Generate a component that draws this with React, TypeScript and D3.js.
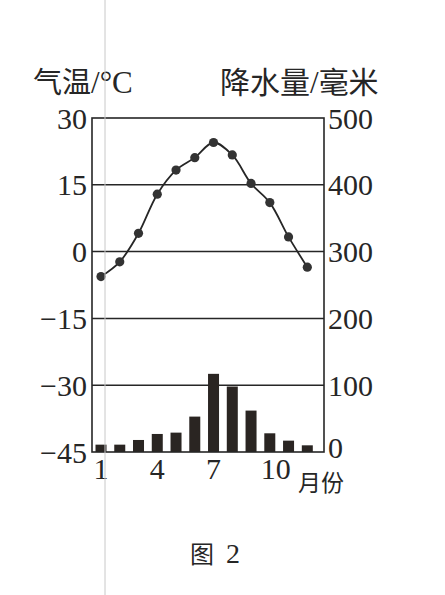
import React from "react";
import * as d3 from "d3";

const months = [1, 2, 3, 4, 5, 6, 7, 8, 9, 10, 11, 12];
const temperature = [-5.6, -2.3, 4.1, 12.9, 18.3, 21.1, 24.5, 21.7, 15.3, 11.0, 3.3, -3.5];
const precipitation = [11, 11, 18, 27, 29, 53, 117, 98, 62, 28, 17, 10];
const tempTicks = [30, 15, 0, -15, -30, -45];
const precTicks = [500, 400, 300, 200, 100, 0];
const monthTicks = [1, 4, 7, 10];

const W = 445;
const H = 595;
const L = 92;
const R = 324;
const T = 118;
const B = 452;
const ink = "#262626";
const serif = "'Liberation Serif', 'DejaVu Serif', serif";
const cjk = "'Noto Sans CJK SC', sans-serif";

export default function App() {
  const x = d3.scaleLinear().domain([0.52, 12.89]).range([L, R]);
  const yT = d3.scaleLinear().domain([-45, 30]).range([B, T]);
  const yP = d3.scaleLinear().domain([0, 500]).range([B, T]);
  const line = d3
    .line<number>()
    .x((_, i) => x(months[i]))
    .y((d) => yT(d))
    .curve(d3.curveCatmullRom.alpha(0.5));
  const barW = 11;
  const fmt = (v: number) => (v < 0 ? "\u2212" + Math.abs(v) : String(v));

  return (
    <svg
      width={W}
      height={H}
      style={{ position: "absolute", left: 0, top: 0, background: "#fff" }}
    >
      <rect x={0} y={0} width={W} height={H} fill="#fff" />
      {/* gridlines */}
      {tempTicks.slice(1, -1).map((t) => (
        <line key={t} x1={L} x2={R} y1={yT(t)} y2={yT(t)} stroke={ink} strokeWidth={1.5} />
      ))}
      {/* bars */}
      {precipitation.map((p, i) => (
        <rect
          key={i}
          x={x(months[i]) - barW / 2}
          y={yP(p)}
          width={barW}
          height={yP(0) - yP(p)}
          fill="#2a2522"
        />
      ))}
      {/* frame */}
      <rect x={L} y={T} width={R - L} height={B - T} fill="none" stroke={ink} strokeWidth={1.6} />
      {/* temperature line */}
      <path d={line(temperature) || ""} fill="none" stroke={ink} strokeWidth={1.8} />
      {temperature.map((t, i) => (
        <circle key={i} cx={x(months[i])} cy={yT(t)} r={4.6} fill="#333" />
      ))}
      {/* left axis labels */}
      {tempTicks.map((t) => (
        <text
          key={t}
          x={87}
          y={yT(t)}
          textAnchor="end"
          dominantBaseline="central"
          fontFamily={serif}
          fontSize={30}
          fill={ink}
        >
          {fmt(t)}
        </text>
      ))}
      {/* right axis labels */}
      {precTicks.map((p) => (
        <text
          key={p}
          x={328}
          y={yP(p) - (p === 0 ? 5 : 0)}
          textAnchor="start"
          dominantBaseline="central"
          fontFamily={serif}
          fontSize={30}
          fill={ink}
        >
          {p}
        </text>
      ))}
      {/* month labels */}
      {monthTicks.map((m) => (
        <text
          key={m}
          x={x(m) + (m >= 10 ? 6 : 0)}
          y={479}
          textAnchor="middle"
          fontFamily={serif}
          fontSize={30}
          fill={ink}
        >
          {m}
        </text>
      ))}
      <text x={298} y={491} fontFamily={cjk} fontSize={23} fill={ink}>
        月份
      </text>
      {/* axis titles */}
      <text x={33} y={93} fontFamily={cjk} fontSize={29} fill={ink}>
        气温<tspan fontFamily={serif} fontSize={31}>/°C</tspan>
      </text>
      <text x={220} y={93} fontFamily={cjk} fontSize={30} fill={ink}>
        降水量<tspan fontFamily={serif} fontSize={31}>/</tspan>毫米
      </text>
      {/* caption */}
      <text x={190} y={563} fontFamily={cjk} fontSize={24} fill={ink}>
        图<tspan dx={12} fontFamily={serif} fontSize={28}>2</tspan>
      </text>
      {/* faint scan line */}
      <line x1={105} x2={105} y1={0} y2={H} stroke="#c8c8c8" strokeWidth={1} />
    </svg>
  );
}
